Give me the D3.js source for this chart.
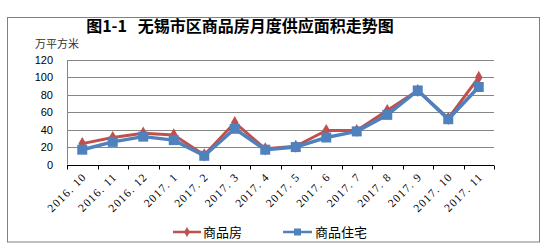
<!DOCTYPE html>
<html><head><meta charset="utf-8">
<script src="https://cdn.jsdelivr.net/npm/d3@7"></script>
<style>body{margin:0;background:#fff}svg{display:block}text{white-space:pre}</style>
</head><body>
<script>
const categories = ["2016.10","2016.11","2016.12","2017.1","2017.2","2017.3","2017.4","2017.5","2017.6","2017.7","2017.8","2017.9","2017.10","2017.11"];
const seriesNames = ["商品房","商品住宅"];
const spfValues = [24,31,36,34,11,48,18,21,39,39,62,85,53,100];
const zzValues  = [17,26,32,28,10,41,17,20,31,38,57,85,52,89];
const yTicks = [0,20,40,60,80,100,120];
const titleText = "图1-1   无锡市区商品房月度供应面积走势图";
const unitText = "万平方米";

const W=555,H=248;
const svg=d3.select("body").append("svg").attr("width",W).attr("height",H);
svg.append("rect").attr("x",7.5).attr("y",17.5).attr("width",532).attr("height",224.5)
  .attr("fill","#fff").attr("stroke","#808080").attr("stroke-width",1);

const L=67,R=494,T=60,B=164.5;
const x=d3.scaleBand().domain(categories).range([L,R]);
const y=d3.scaleLinear().domain([0,120]).range([B,T]);

svg.append("text").attr("x",240).attr("y",32).attr("text-anchor","middle")
  .attr("font-family","'Noto Sans CJK SC'").attr("font-weight","bold").attr("font-size",16)
  .attr("fill","#000").text(titleText);
svg.append("text").attr("x",35).attr("y",48)
  .attr("font-family","'Noto Sans CJK SC'").attr("font-size",11).attr("fill","#333").text(unitText);

// gridlines
svg.append("g").selectAll("line").data(yTicks.filter(d=>d>0)).join("line")
  .attr("x1",L).attr("x2",R).attr("y1",d=>Math.round(y(d))+0.5).attr("y2",d=>Math.round(y(d))+0.5)
  .attr("stroke","#868686").attr("stroke-width",1);

// y axis labels
svg.append("g").selectAll("text").data(yTicks).join("text")
  .attr("x",53).attr("y",d=>y(d)+4).attr("text-anchor","end")
  .attr("font-family","'Liberation Sans',Arial").attr("font-size",11).attr("fill","#000").text(d=>d);
svg.append("line").attr("x1",L+0.5).attr("x2",L+0.5).attr("y1",T).attr("y2",B).attr("stroke","#868686");

// x axis
const xa=svg.append("g").attr("transform",`translate(0,${Math.round(B)+0.5})`);
xa.append("line").attr("x1",L).attr("x2",R).attr("stroke","#000");
const bounds=d3.range(categories.length+1).map(i=>L+i*x.step());
xa.selectAll("line.t").data(bounds).join("line").attr("class","t")
  .attr("x1",d=>Math.round(d)+0.5).attr("x2",d=>Math.round(d)+0.5).attr("y1",0).attr("y2",4).attr("stroke","#000");
xa.selectAll("text").data(categories).join("text")
  .attr("transform",d=>`translate(${x(d)+x.bandwidth()/2+5},${12}) rotate(-45)`)
  .attr("text-anchor","end").attr("font-family","'Liberation Serif',serif").attr("font-size",11.5)
  .attr("letter-spacing",1.2).attr("fill","#000").text(d=>d.replace(".",". "));

const line=d3.line().x((d,i)=>x(categories[i])+x.bandwidth()/2).y(d=>y(d));
svg.append("path").datum(spfValues).attr("d",line).attr("fill","none")
  .attr("stroke","#C0504D").attr("stroke-width",3).attr("stroke-linejoin","round");
svg.append("g").selectAll("path").data(spfValues).join("path")
  .attr("d",d3.symbol(d3.symbolDiamond,50)())
  .attr("transform",(d,i)=>`translate(${x(categories[i])+x.bandwidth()/2},${y(d)})`)
  .attr("fill","#C0504D");
svg.append("path").datum(zzValues).attr("d",line).attr("fill","none")
  .attr("stroke","#4F81BD").attr("stroke-width",3.5).attr("stroke-linejoin","round");
svg.append("g").selectAll("rect").data(zzValues).join("rect")
  .attr("x",(d,i)=>x(categories[i])+x.bandwidth()/2-5).attr("y",d=>y(d)-5)
  .attr("width",10).attr("height",10).attr("fill","#4F81BD");

// legend
const leg=[{x1:173,x2:201,tx:203,c:"#C0504D",m:"d"},{x1:283,x2:312,tx:315,c:"#4F81BD",m:"s"}];
const ly=232;
leg.forEach((l,i)=>{
  svg.append("line").attr("x1",l.x1).attr("x2",l.x2).attr("y1",ly).attr("y2",ly).attr("stroke",l.c).attr("stroke-width",2.5);
  const cx=(l.x1+l.x2)/2;
  if(l.m==="d") svg.append("path").attr("d",d3.symbol(d3.symbolDiamond,30)()).attr("transform",`translate(${cx},${ly})`).attr("fill",l.c);
  else svg.append("rect").attr("x",cx-3.5).attr("y",ly-3.5).attr("width",7).attr("height",7).attr("fill",l.c);
  svg.append("text").attr("x",l.tx).attr("y",ly+5).attr("font-family","'Noto Sans CJK SC'").attr("font-size",13)
    .attr("fill","#000").text(seriesNames[i]);
});
</script>
</body></html>
